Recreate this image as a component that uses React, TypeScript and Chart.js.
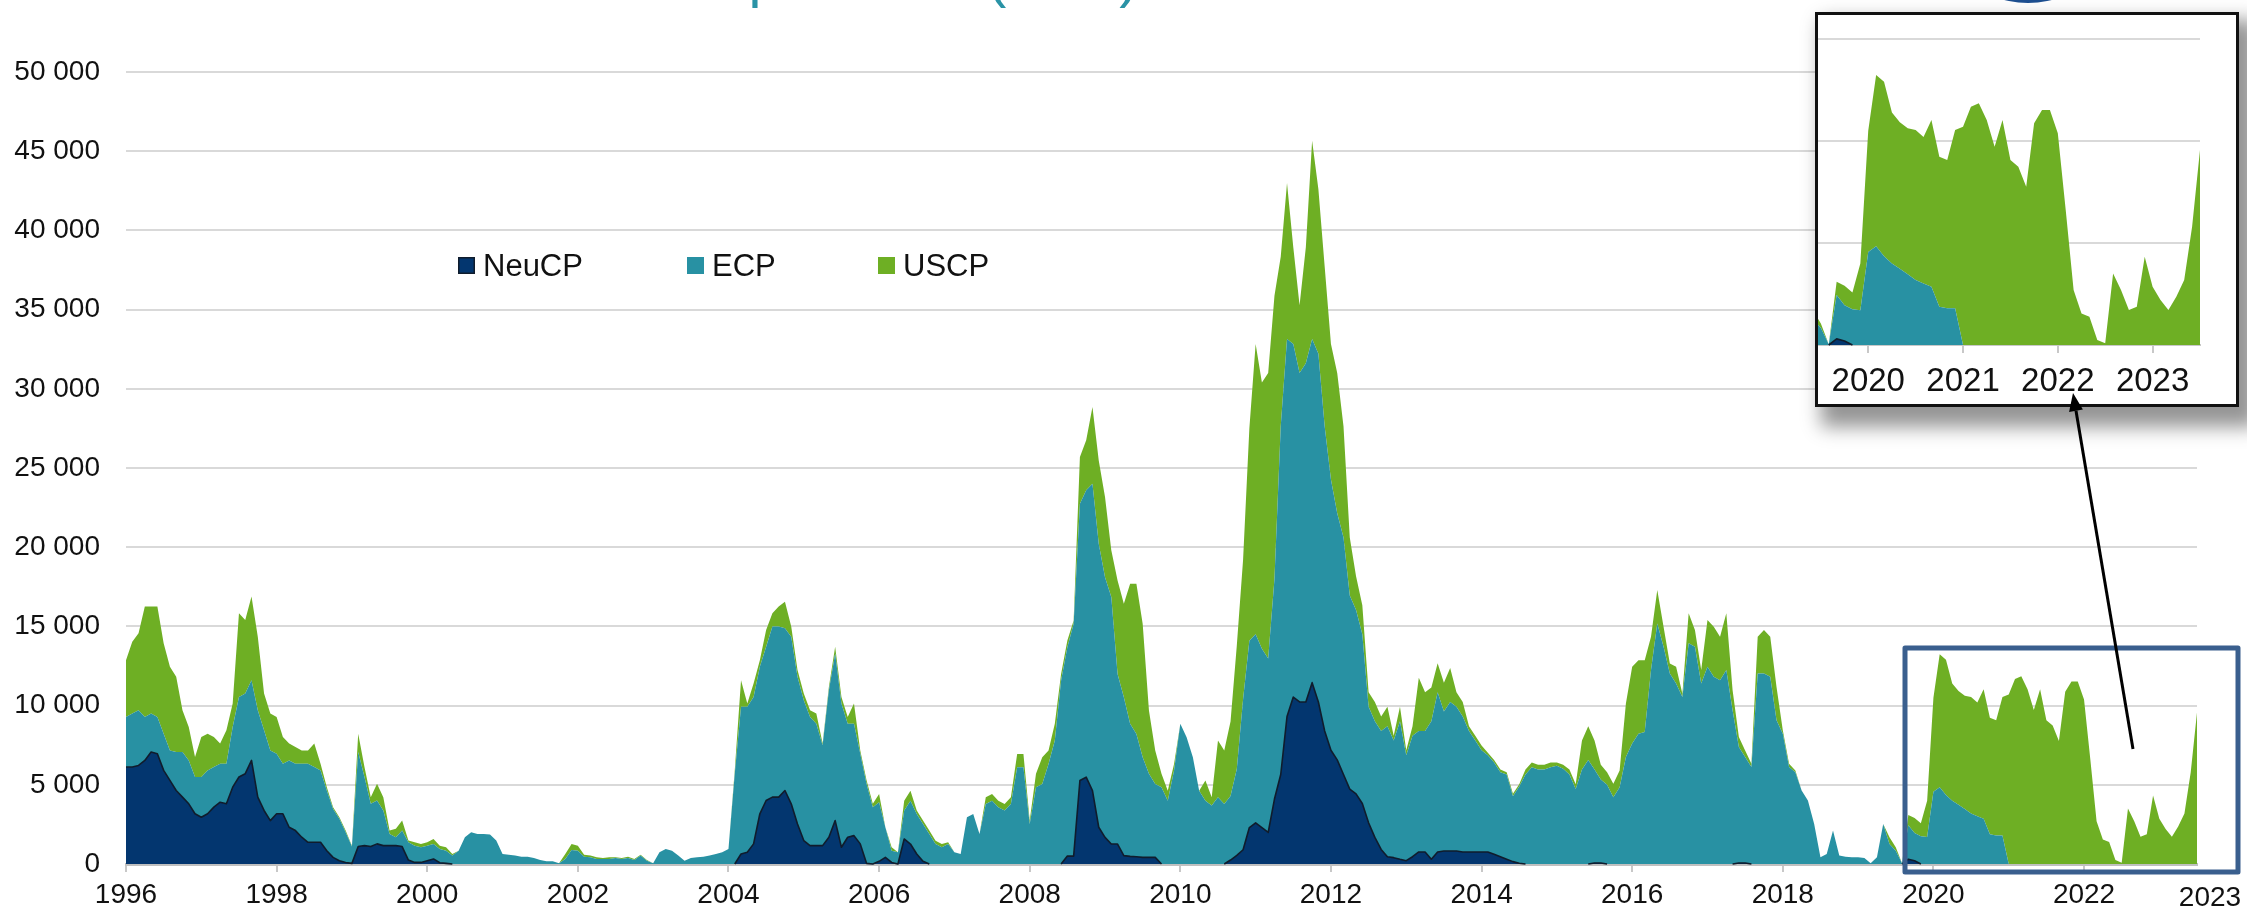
import React, { useEffect, useRef } from "react";
import { Chart, registerables } from "chart.js";

Chart.register(...registerables);

// ---------- DATA (monthly readings, Jan 1996 .. Jul 2023) ----------
const START_YEAR = 1996;
const END_YEAR = 2023.5;
const X_TICKS = [1996, 1998, 2000, 2002, 2004, 2006, 2008, 2010, 2012, 2014, 2016, 2018, 2020, 2022];
const EXTRA_X_LABEL = "2023";
const INSET_START = 2019.47;
const INSET_TICKS = [2020, 2021, 2022, 2023];
const SERIES_NAMES = ["NeuCP", "ECP", "USCP"];
const TITLE = "Encours des titres courts : comparaison (Md€)";

const NEUCP = [
  6120, 6120, 6220, 6540, 7070, 6960, 5910, 5280, 4640, 4220, 3800, 3170,
  2950, 3170, 3590, 3900, 3800, 4850, 5490, 5700, 6540, 4220, 3380, 2740,
  3170, 3170, 2320, 2110, 1690, 1370, 1370, 1370, 840, 420, 210, 100,
  40, 1100, 1160, 1100, 1270, 1160, 1160, 1160, 1100, 250, 100, 100,
  210, 320, 80, 40, 0, 0, 0, 0, 0, 0, 0, 0,
  0, 0, 0, 0, 0, 0, 0, 0, 0, 0, 0, 0,
  0, 0, 0, 0, 0, 0, 0, 0, 0, 0, 0, 0,
  0, 0, 0, 0, 0, 0, 0, 0, 0, 0, 0, 0,
  0, 0, 630, 740, 1270, 3170, 4010, 4220, 4220, 4640, 3800, 2530,
  1480, 1160, 1160, 1160, 1690, 2740, 1060, 1690, 1790, 1270, 40, 0,
  170, 420, 100, 0, 1580, 1260, 630, 170, 0, 0, 0, 0,
  0, 0, 0, 0, 0, 0, 0, 0, 0, 0, 0, 0,
  0, 0, 0, 0, 0, 0, 500, 500, 5270, 5480, 4630, 2320,
  1680, 1260, 1260, 530, 480, 460, 420, 420, 420, 0, 0, 0,
  0, 0, 0, 0, 0, 0, 0, 0, 250, 540, 900, 2300,
  2600, 2290, 1990, 4100, 5650, 9310, 10540, 10230, 10230, 11450, 10230, 8400,
  7180, 6570, 5650, 4730, 4430, 3820, 2600, 1680, 920, 460, 400, 300,
  210, 460, 760, 760, 300, 760, 820, 820, 820, 760, 760, 760,
  760, 760, 610, 460, 300, 150, 50, 0, 0, 0, 0, 0,
  0, 0, 0, 0, 0, 0, 60, 60, 0, 0, 0, 0,
  0, 0, 0, 0, 0, 0, 0, 0, 0, 0, 0, 0,
  0, 0, 0, 0, 0, 60, 60, 0, 0, 0, 0, 0,
  0, 0, 0, 0, 0, 0, 0, 0, 0, 0, 0, 0,
  0, 0, 0, 0, 0, 0, 0, 0, 300, 200, 0, 0,
  0, 0, 0, 0, 0, 0, 0, 0, 0, 0, 0, 0,
  0, 0, 0, 0, 0, 0, 0, 0, 0, 0, 0, 0,
  0, 0, 0, 0, 0, 0, 0, 0, 0, 0, 0, 0,
  0, 0, 0, 0, 0, 0, 0,
];

const ECP = [
  3160, 3380, 3480, 2740, 2430, 2320, 2320, 1890, 2430, 2850, 2740, 2320,
  2540, 2740, 2530, 2430, 2530, 3800, 5060, 5060, 5060, 5490, 5060, 4430,
  3790, 3160, 4220, 4220, 4640, 4960, 4750, 4540, 3800, 3060, 2640, 1900,
  1060, 5970, 4330, 2700, 2740, 2220, 740, 530, 1010, 1120, 1060, 960,
  950, 950, 870, 800, 530, 840, 1690, 2000, 1900, 1900, 1860, 1480,
  630, 590, 530, 460, 460, 380, 250, 170, 170, 40, 320, 890,
  840, 460, 420, 320, 320, 320, 380, 320, 380, 250, 530, 210,
  40, 740, 950, 840, 530, 210, 380, 420, 460, 530, 630, 740,
  950, 5700, 9290, 9180, 9280, 9280, 9700, 10780, 10780, 10240, 10550, 9290,
  8860, 8120, 7700, 6330, 9280, 10550, 9070, 7170, 7070, 5690, 5020, 3590,
  3730, 1900, 740, 740, 1790, 2740, 2530, 2360, 1900, 1260, 1050, 1260,
  740, 630, 2950, 3160, 1900, 3790, 4000, 3580, 3370, 3790, 6110, 6110,
  2530, 4840, 5050, 6320, 7790, 11580, 13190, 14660, 17470, 18110, 19380, 17900,
  16430, 15590, 10740, 10000, 8370, 7750, 6320, 5270, 4630, 4840, 4000, 5900,
  8850, 8000, 6740, 4630, 4000, 3690, 4210, 3790, 4050, 5460, 9500, 11800,
  11910, 11300, 10990, 13900, 21990, 23830, 22290, 20770, 21380, 21690, 21990, 19240,
  17100, 15570, 14960, 12220, 11600, 10690, 7330, 7330, 7480, 8240, 7390, 8710,
  6660, 7630, 7640, 7640, 8710, 10080, 8800, 9410, 9110, 8550, 7640, 7030,
  6420, 6110, 5800, 5340, 5350, 4130, 4840, 5650, 6110, 5960, 5960, 6110,
  6200, 6020, 5650, 4730, 5960, 6570, 5900, 5280, 5000, 4220, 4850, 6750,
  7600, 8230, 8330, 12240, 15190, 13710, 12030, 11390, 10550, 13930, 13710, 11390,
  12450, 11820, 11600, 12240, 9710, 7330, 6690, 6120, 12030, 12030, 11820, 9070,
  8230, 6120, 5800, 4640, 4010, 2530, 420, 630, 2110, 530, 460, 420,
  420, 380, 40, 420, 2530, 1270, 840, 40, 2150, 1750, 1750, 1700,
  4560, 4840, 4350, 4000, 3740, 3470, 3190, 3020, 2860, 1880, 1800, 1800,
  0, 0, 0, 0, 0, 0, 0, 0, 0, 0, 0, 0,
  0, 0, 0, 0, 0, 0, 0, 0, 0, 0, 0, 0,
  0, 0, 0, 0, 0, 0, 0,
];

const USCP = [
  3590, 4530, 4860, 6970, 6750, 6970, 5700, 5280, 4750, 2640, 2110, 1260,
  2530, 2320, 1900, 1270, 2110, 1480, 5280, 4640, 5280, 4640, 2320, 2330,
  2320, 1690, 1060, 1060, 840, 840, 1480, 420, 210, 110, 100, 110,
  60, 1160, 630, 420, 1050, 840, 210, 530, 630, 110, 210, 210,
  210, 310, 210, 220, 100, 0, 0, 0, 0, 0, 0, 0,
  0, 0, 0, 0, 0, 0, 0, 0, 0, 0, 310, 380,
  320, 130, 110, 100, 60, 100, 40, 60, 80, 70, 60, 40,
  0, 0, 0, 0, 0, 0, 0, 0, 0, 0, 0, 0,
  0, 210, 1680, 210, 840, 420, 1060, 830, 1250, 1680, 650, 420,
  420, 430, 640, 110, 210, 420, 420, 420, 1270, 210, 220, 210,
  520, 0, 210, 0, 630, 630, 210, 210, 210, 210, 210, 110,
  0, 0, 0, 0, 0, 420, 420, 420, 420, 420, 840, 840,
  210, 850, 1690, 840, 1060, 420, 420, 210, 2950, 3160, 4840, 5260,
  5060, 2950, 5900, 5900, 8840, 9480, 8420, 4000, 2110, 850, 630, 420,
  0, 0, 0, 0, 1270, 520, 3580, 3370, 4700, 7800, 8800, 13400,
  18320, 16800, 18020, 17880, 10690, 9860, 6110, 4270, 7330, 12520, 10380, 10080,
  8550, 8860, 7030, 3660, 2140, 1830, 910, 1220, 910, 1230, 300, 920,
  310, 610, 3360, 2440, 2140, 1830, 1830, 2140, 910, 920, 300, 300,
  300, 150, 160, 160, 150, 150, 150, 310, 300, 300, 300, 300,
  210, 240, 310, 310, 1830, 2130, 1830, 920, 800, 840, 1060, 3380,
  4850, 4640, 4540, 2110, 2110, 1270, 630, 1060, 200, 1900, 1060, 850,
  2950, 3160, 2750, 3590, 1260, 630, 420, 210, 2320, 2740, 2530, 2110,
  210, 210, 110, 0, 0, 0, 0, 0, 0, 0, 0, 0,
  0, 0, 0, 0, 0, 420, 220, 0, 650, 950, 820, 2300,
  5940, 8400, 8550, 7400, 7180, 7150, 7350, 7180, 8170, 7350, 7270, 8740,
  10700, 11680, 11850, 11030, 9720, 11030, 9070, 8740, 7760, 10870, 11520, 11520,
  10380, 6620, 2700, 1550, 1390, 250, 80, 3510, 2700, 1720, 1880, 4330,
  2860, 2210, 1720, 2370, 3190, 5800, 9560,
];

// month positions (decimal years) for each reading
const MONTHS = NEUCP.map((_, i) => START_YEAR + i / 12);

// ---------- STYLE ----------
const FONT = "'Liberation Sans', Arial, Helvetica, sans-serif";
const COLORS = ["#03366F", "#2891A3", "#6EAF24"];
const NAVY_EDGE = "#101c2c";
const W = 2247;
const H = 912;

const fmtThousands = (v: number) => String(v).replace(/\B(?=(\d{3})+(?!\d))/g, " ");

function buildDatasets(fromIndex: number) {
  const all = [NEUCP, ECP, USCP];
  return all.map((vals, k) => ({
    label: SERIES_NAMES[k],
    data: vals.slice(fromIndex).map((v, j) => ({ x: MONTHS[fromIndex + j], y: v })),
    backgroundColor: COLORS[k],
    borderColor: COLORS[k],
    borderWidth: 0,
    fill: k === 0 ? "origin" : "-1",
    pointRadius: 0,
    pointHoverRadius: 0,
    tension: 0,
  }));
}

// dark outline on top of the NeuCP area (skipping stretches that sit on zero)
const navyEdgePlugin = {
  id: "navyEdge",
  afterDatasetsDraw(chart: any) {
    const meta = chart.getDatasetMeta(0);
    const raw = chart.data.datasets[0].data as { x: number; y: number }[];
    const pts = meta.data;
    const ctx = chart.ctx as CanvasRenderingContext2D;
    const a = chart.chartArea;
    ctx.save();
    ctx.beginPath();
    ctx.rect(a.left, a.top, a.right - a.left, a.bottom - a.top + 1);
    ctx.clip();
    ctx.strokeStyle = NAVY_EDGE;
    ctx.lineWidth = 1.6;
    ctx.lineJoin = "round";
    ctx.beginPath();
    let pen = false;
    for (let i = 1; i < pts.length; i++) {
      if (raw[i - 1].y === 0 && raw[i].y === 0) {
        pen = false;
        continue;
      }
      if (!pen) {
        ctx.moveTo(pts[i - 1].x, pts[i - 1].y);
        pen = true;
      }
      ctx.lineTo(pts[i].x, pts[i].y);
    }
    ctx.stroke();
    ctx.restore();
  },
};

const decorPlugin = {
  id: "decor",
  afterDraw(chart: any) {
    const ctx = chart.ctx as CanvasRenderingContext2D;
    ctx.save();

    // title (cropped at the top of the picture)
    ctx.font = `58px ${FONT}`;
    ctx.fillStyle = "#2A93A6";
    ctx.textBaseline = "alphabetic";
    ctx.textAlign = "left";
    const paren = TITLE.indexOf("(");
    const pre = TITLE.slice(0, paren);
    const x0 = 987 - ctx.measureText(pre).width;
    ctx.fillText(TITLE, x0, -4);

    // logo fragment
    ctx.fillStyle = "#1D4F91";
    ctx.beginPath();
    ctx.ellipse(2028, -22, 50, 25, 0, 0, Math.PI * 2);
    ctx.fill();

    // legend
    const legendX = [458, 687, 878];
    ctx.font = `31px ${FONT}`;
    ctx.textBaseline = "middle";
    SERIES_NAMES.forEach((name, k) => {
      const sx = legendX[k];
      ctx.fillStyle = COLORS[k];
      ctx.fillRect(sx, 257, 17, 17);
      if (k === 0) {
        ctx.strokeStyle = NAVY_EDGE;
        ctx.lineWidth = 1.5;
        ctx.strokeRect(sx + 0.75, 257.75, 15.5, 15.5);
      }
      ctx.fillStyle = "#111";
      ctx.fillText(name, sx + 25, 267);
    });

    // extra axis label at right end
    ctx.font = `28px ${FONT}`;
    ctx.textAlign = "center";
    ctx.fillStyle = "#111";
    ctx.fillText(EXTRA_X_LABEL, 2210, 898);

    // highlight rectangle
    ctx.strokeStyle = "#3A5F8E";
    ctx.lineWidth = 5;
    ctx.lineJoin = "round";
    ctx.strokeRect(1905, 648, 333, 224);

    ctx.restore();
  },
};

function MainChart() {
  const ref = useRef<HTMLCanvasElement>(null);
  useEffect(() => {
    const chart = new Chart(ref.current!, {
      type: "line",
      data: { datasets: buildDatasets(0) as any },
      options: {
        responsive: false,
        animation: false,
        devicePixelRatio: 1,
        events: [],
        layout: { padding: { top: 72, right: 50, left: 0, bottom: 0 } },
        plugins: { legend: { display: false }, tooltip: { enabled: false } },
        scales: {
          x: {
            type: "linear",
            min: START_YEAR,
            max: END_YEAR,
            afterBuildTicks: (s: any) => {
              s.ticks = X_TICKS.map((v) => ({ value: v }));
            },
            afterFit: (s: any) => {
              s.height = 48;
            },
            grid: { drawOnChartArea: false, drawTicks: true, tickLength: 8, color: "#c8c8c8", lineWidth: 2 },
            border: { display: true, color: "#c0c0c0", width: 3 },
            ticks: {
              color: "#111",
              font: { family: FONT, size: 28 },
              padding: 6,
              maxRotation: 0,
              autoSkip: false,
              callback: (v: any) => String(v),
            },
          },
          y: {
            stacked: true,
            min: 0,
            max: 50000,
            afterFit: (s: any) => {
              s.width = 126;
            },
            grid: { color: "#d9d9d9", lineWidth: 2, drawTicks: false },
            border: { display: false },
            ticks: {
              stepSize: 5000,
              color: "#111",
              font: { family: FONT, size: 28 },
              padding: 26,
              callback: (v: any) => fmtThousands(Number(v)),
            },
          },
        },
      } as any,
      plugins: [navyEdgePlugin, decorPlugin],
    });
    return () => chart.destroy();
  }, []);
  return (
    <canvas
      ref={ref}
      width={W}
      height={H}
      style={{ position: "absolute", left: 0, top: 0, width: W, height: H }}
    />
  );
}

function InsetChart() {
  const ref = useRef<HTMLCanvasElement>(null);
  useEffect(() => {
    const from = MONTHS.findIndex((m) => m >= INSET_START) - 1;
    const chart = new Chart(ref.current!, {
      type: "line",
      data: { datasets: buildDatasets(from) as any },
      options: {
        responsive: false,
        animation: false,
        devicePixelRatio: 1,
        events: [],
        layout: { padding: { top: 24, right: 36, left: 0, bottom: 0 } },
        plugins: { legend: { display: false }, tooltip: { enabled: false } },
        scales: {
          x: {
            type: "linear",
            min: INSET_START,
            max: END_YEAR,
            afterBuildTicks: (s: any) => {
              s.ticks = INSET_TICKS.map((v) => ({ value: v }));
            },
            afterFit: (s: any) => {
              s.height = 59;
            },
            grid: { drawOnChartArea: false, drawTicks: true, tickLength: 8, color: "#c8c8c8", lineWidth: 2 },
            border: { display: true, color: "#c8c8c8", width: 2 },
            ticks: {
              color: "#111",
              font: { family: FONT, size: 33 },
              padding: 9,
              maxRotation: 0,
              autoSkip: false,
              callback: (v: any) => String(v),
            },
          },
          y: {
            stacked: true,
            min: 0,
            max: 15000,
            afterFit: (s: any) => {
              s.width = 0;
            },
            grid: { color: "#d9d9d9", lineWidth: 2, drawTicks: false },
            border: { display: false },
            ticks: { stepSize: 5000, display: false },
          },
        },
      } as any,
      plugins: [navyEdgePlugin],
    });
    return () => chart.destroy();
  }, []);
  return (
    <div
      style={{
        position: "absolute",
        left: 1815,
        top: 12,
        width: 424,
        height: 395,
        boxSizing: "border-box",
        border: "3px solid #111",
        background: "#fff",
        boxShadow: "12px 14px 18px 6px rgba(0,0,0,0.42)",
      }}
    >
      <canvas ref={ref} width={418} height={389} style={{ display: "block", width: 418, height: 389 }} />
    </div>
  );
}

function ArrowOverlay() {
  const ref = useRef<HTMLCanvasElement>(null);
  useEffect(() => {
    const ctx = ref.current!.getContext("2d")!;
    ctx.clearRect(0, 0, W, H);
    const tail = { x: 2133, y: 749 };
    const tip = { x: 2073, y: 393 };
    const ang = Math.atan2(tip.y - tail.y, tip.x - tail.x);
    const headLen = 18;
    const headW = 7;
    const bx = tip.x - headLen * Math.cos(ang);
    const by = tip.y - headLen * Math.sin(ang);
    ctx.strokeStyle = "#000";
    ctx.lineWidth = 3;
    ctx.beginPath();
    ctx.moveTo(tail.x, tail.y);
    ctx.lineTo(bx, by);
    ctx.stroke();
    ctx.fillStyle = "#000";
    ctx.beginPath();
    ctx.moveTo(tip.x, tip.y);
    ctx.lineTo(bx + headW * Math.sin(ang), by - headW * Math.cos(ang));
    ctx.lineTo(bx - headW * Math.sin(ang), by + headW * Math.cos(ang));
    ctx.closePath();
    ctx.fill();
  }, []);
  return (
    <canvas
      ref={ref}
      width={W}
      height={H}
      style={{ position: "absolute", left: 0, top: 0, width: W, height: H, pointerEvents: "none" }}
    />
  );
}

export default function App() {
  return (
    <div
      style={{
        position: "absolute",
        left: 0,
        top: 0,
        width: W,
        height: H,
        background: "#fff",
        overflow: "hidden",
      }}
    >
      <MainChart />
      <InsetChart />
      <ArrowOverlay />
    </div>
  );
}
